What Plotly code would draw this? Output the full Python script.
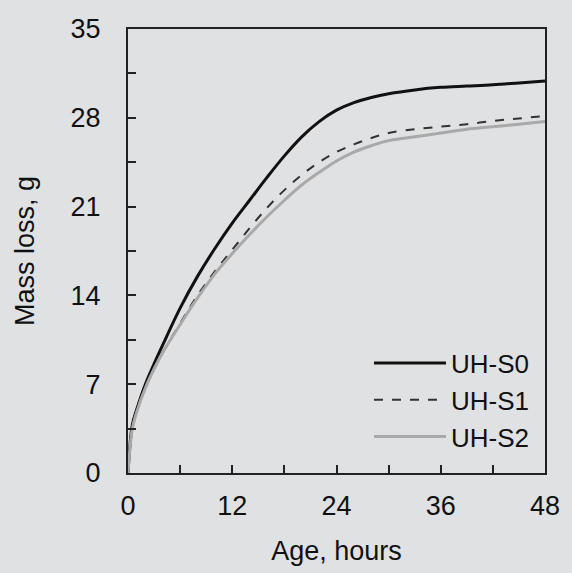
import plotly.graph_objects as go

hours = [0, 0.5, 1, 2, 3, 4, 6, 8, 10, 12, 14, 16, 18, 20, 22, 24, 26, 28, 30, 33, 36, 39, 42, 45, 48]
uh_s0 = [0, 3.8, 5.0, 7.0, 8.6, 10.1, 13.0, 15.5, 17.7, 19.7, 21.5, 23.3, 25.0, 26.5, 27.7, 28.6, 29.2, 29.6, 29.9, 30.2, 30.4, 30.5, 30.6, 30.75, 30.9]
uh_s1 = [0, 3.6, 4.9, 6.8, 8.2, 9.5, 11.8, 14.0, 15.9, 17.6, 19.3, 20.9, 22.3, 23.5, 24.5, 25.3, 25.9, 26.4, 26.8, 27.1, 27.3, 27.5, 27.75, 27.95, 28.15]
uh_s2 = [0, 3.5, 4.8, 6.7, 8.2, 9.5, 11.7, 13.8, 15.7, 17.3, 18.8, 20.2, 21.5, 22.7, 23.7, 24.6, 25.3, 25.8, 26.2, 26.5, 26.8, 27.1, 27.3, 27.5, 27.7]

x_ticks = [0, 12, 24, 36, 48]
y_ticks = [0, 7, 14, 21, 28, 35]

BG = "#e0e1e3"
FONT = "Liberation Sans, Arial, sans-serif"

fig = go.Figure()
fig.add_trace(go.Scatter(x=hours, y=uh_s0, name="UH-S0", mode="lines", legendgroup="a",
                         line=dict(color="#111111", width=3, shape="spline")))
fig.add_trace(go.Scatter(x=hours, y=uh_s1, name="UH-S1", mode="lines", legendgroup="b",
                         line=dict(color="#333333", width=2, dash="dash", shape="spline")))
fig.add_trace(go.Scatter(x=hours, y=uh_s2, name="UH-S2", mode="lines", legendgroup="c",
                         line=dict(color="#a9a9a9", width=3, shape="spline")))

axis_common = dict(showgrid=False, zeroline=False, showline=True, linecolor="#222222", linewidth=2,
                   mirror=True, ticks="inside", ticklen=8, tickwidth=1.5, tickcolor="#222222",
                   tickfont=dict(family=FONT, size=27, color="#111111"))

fig.update_xaxes(range=[0, 48], tickvals=x_ticks, ticklabelstandoff=8,
                 minor=dict(dtick=6, tick0=0, ticks="inside", ticklen=8, tickwidth=1.5, tickcolor="#222222"),
                 title=dict(text="Age, hours", font=dict(family=FONT, size=27, color="#111111"), standoff=21),
                 **axis_common)
fig.update_yaxes(range=[0, 35], tickvals=y_ticks, ticklabelstandoff=20,
                 minor=dict(dtick=3.5, tick0=0, ticks="inside", ticklen=8, tickwidth=1.5, tickcolor="#222222"),
                 title=dict(text="Mass loss, g", font=dict(family=FONT, size=27, color="#111111"), standoff=28),
                 **axis_common)

fig.update_layout(
    width=572, height=573,
    margin=dict(l=128, r=18, t=29, b=99),
    paper_bgcolor=BG, plot_bgcolor=BG,
    showlegend=True,
    legend=dict(x=0.976, y=0.028, xanchor="right", yanchor="bottom", bgcolor="rgba(0,0,0,0)",
                font=dict(family=FONT, size=26, color="#111111"), itemwidth=72, tracegroupgap=0),
)

fig.write_html("out.html")
